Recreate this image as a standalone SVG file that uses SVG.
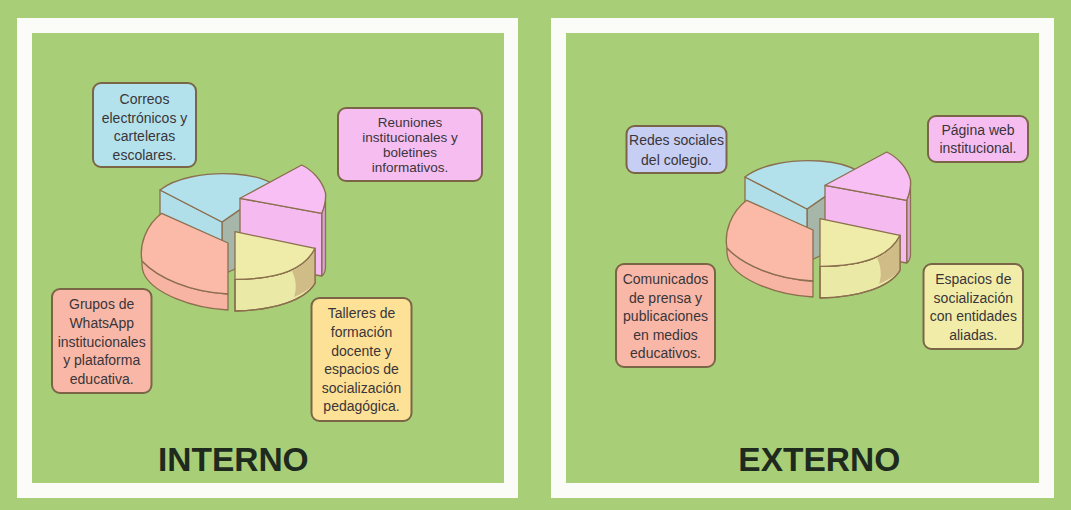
<svg xmlns="http://www.w3.org/2000/svg" xmlns:xlink="http://www.w3.org/1999/xlink" width="1071" height="510" viewBox="0 0 1071 510">
  <style>
    .frame { fill: #fbfcf8; }
    .inner { fill: #a8cf78; }
    .box { stroke: #7a6646; stroke-width: 2; }
    .lbl { font-family: "Liberation Sans", Arial, sans-serif; font-size: 14px; fill: #3a3539; text-anchor: middle; }
    .tight { font-size: 13.5px; }
    .title { font-family: "Liberation Sans", Arial, sans-serif; font-size: 33.5px; font-weight: bold; fill: #1e2a1d; text-anchor: middle; }
    .edge { stroke: #8b6f4e; stroke-width: 1.3; stroke-linejoin: round; }
  </style>
  <defs>
    <g id="pie">
      <path class="edge" d="M222,222 L250,203 L250,262 L222,275 Z" fill="#a6b6a8"/>
      <path class="edge" d="M160,190 L222,222 L222,262 L160,230 Z" fill="#b1dfe9"/>
      <path class="edge" d="M160,190 C175,178 205,172 235,174 C252,175 265,179 275,185 L222,222 Z" fill="#b2e1ec"/>
      <path class="edge" d="M142,261 C158,278 190,292 228,294 L228,310 C190,308 155,293 145,276 C142,271 141.7,266 142,261 Z" fill="#f8b4a2"/>
      <path class="edge" d="M161.7,213.3 L228,243 L228,294 C190,292 158,278 142,261 C139,245 146,225 161.7,213.3 Z" fill="#fbb9a7"/>
      <path class="edge" d="M321.7,213.3 Q325.5,205 325.5,193 L325.5,268 Q325,274 321.7,276 Z" fill="#dba3d5"/>
      <path class="edge" d="M240,198.3 L321.7,213.3 L321.7,276 L240,262 Z" fill="#f5baf0"/>
      <path class="edge" d="M240,198.3 L301.7,165 C312,170 322,180 325.5,193 C326,200 324,208 321.7,213.3 Z" fill="#f7bff3"/>
      <path class="edge" d="M235,279.3 C282,279 305,268 315,248.3 L315,283.3 C305,300 275,310 235,311 Z" fill="#ebe9a6"/>
      <path d="M292,271 C303,266 311,257 315,248.3 L315,283.3 C309,290 301,294 294,297 C297,288 296,279 292,271 Z" fill="#cfbc86"/>
      <path class="edge" d="M235,279.3 C282,279 305,268 315,248.3 L315,283.3 C305,300 275,310 235,311 Z" fill="none"/>
      <path class="edge" d="M235,231.7 L315,248.3 C305,268 282,279 235,279.3 Z" fill="#eeeca8"/>
    </g>
  </defs>

  <rect x="0" y="0" width="1071" height="510" fill="#a8cf78"/>

  <g id="panel-interno">
    <rect class="frame" x="17" y="18" width="501" height="480"/>
    <rect class="inner" x="32" y="33" width="472" height="450"/>
  </g>
  <g id="panel-externo">
    <rect class="frame" x="551" y="18" width="503" height="480"/>
    <rect class="inner" x="566" y="33" width="473" height="450"/>
  </g>

  <g id="pie-interno"><use xlink:href="#pie" href="#pie"/></g>
  <g id="pie-externo"><use xlink:href="#pie" href="#pie" transform="translate(585,-13)"/></g>

  <g id="connectors"></g>

  <g id="node-correos">
    <rect class="box" x="93" y="83" width="103" height="84" rx="8" fill="#b3e2ed"/>
    <text class="lbl" x="144.5" y="104">Correos</text>
    <text class="lbl" x="144.5" y="122.5">electrónicos y</text>
    <text class="lbl" x="144.5" y="141">carteleras</text>
    <text class="lbl" x="144.5" y="159.5">escolares.</text>
  </g>

  <g id="node-reuniones">
    <rect class="box" x="338" y="108" width="144" height="73" rx="8" fill="#f6bdf1"/>
    <text class="lbl tight" x="410" y="127">Reuniones</text>
    <text class="lbl tight" x="410" y="142">institucionales y</text>
    <text class="lbl tight" x="410" y="157">boletines</text>
    <text class="lbl tight" x="410" y="172">informativos.</text>
  </g>

  <g id="node-grupos">
    <rect class="box" x="52" y="289" width="99.5" height="104" rx="8" fill="#f9b8a7"/>
    <text class="lbl" x="101.7" y="309">Grupos de</text>
    <text class="lbl" x="101.7" y="328">WhatsApp</text>
    <text class="lbl" x="101.7" y="346.5">institucionales</text>
    <text class="lbl" x="101.7" y="365">y plataforma</text>
    <text class="lbl" x="101.7" y="383.5">educativa.</text>
  </g>

  <g id="node-talleres">
    <rect class="box" x="311.5" y="298" width="100" height="123" rx="8" fill="#fde197"/>
    <text class="lbl" x="361.5" y="317.5">Talleres de</text>
    <text class="lbl" x="361.5" y="336.5">formación</text>
    <text class="lbl" x="361.5" y="355.5">docente y</text>
    <text class="lbl" x="361.5" y="374">espacios de</text>
    <text class="lbl" x="361.5" y="392.5">socialización</text>
    <text class="lbl" x="361.5" y="411">pedagógica.</text>
  </g>

  <g id="title-interno">
    <text class="title" x="233.3" y="470.5">INTERNO</text>
  </g>

  <g id="node-redes">
    <rect class="box" x="626.5" y="126" width="100" height="47" rx="8" fill="#c6cef3"/>
    <text class="lbl" x="676.5" y="145">Redes sociales</text>
    <text class="lbl" x="676.5" y="165">del colegio.</text>
  </g>

  <g id="node-pagina">
    <rect class="box" x="928" y="116" width="100" height="46" rx="8" fill="#f6bdf1"/>
    <text class="lbl" x="978" y="135">Página web</text>
    <text class="lbl" x="978" y="153">institucional.</text>
  </g>

  <g id="node-comunicados">
    <rect class="box" x="616" y="264" width="99" height="103" rx="8" fill="#f9b8a7"/>
    <text class="lbl" x="665.5" y="284">Comunicados</text>
    <text class="lbl" x="665.5" y="302.5">de prensa y</text>
    <text class="lbl" x="665.5" y="321">publicaciones</text>
    <text class="lbl" x="665.5" y="339.5">en medios</text>
    <text class="lbl" x="665.5" y="358">educativos.</text>
  </g>

  <g id="node-espacios">
    <rect class="box" x="923.5" y="264" width="99.5" height="85" rx="8" fill="#f1eda9"/>
    <text class="lbl" x="973.3" y="284">Espacios de</text>
    <text class="lbl" x="973.3" y="302.5">socialización</text>
    <text class="lbl" x="973.3" y="321">con entidades</text>
    <text class="lbl" x="973.3" y="339.5">aliadas.</text>
  </g>

  <g id="title-externo">
    <text class="title" x="819.3" y="470.5">EXTERNO</text>
  </g>
</svg>
